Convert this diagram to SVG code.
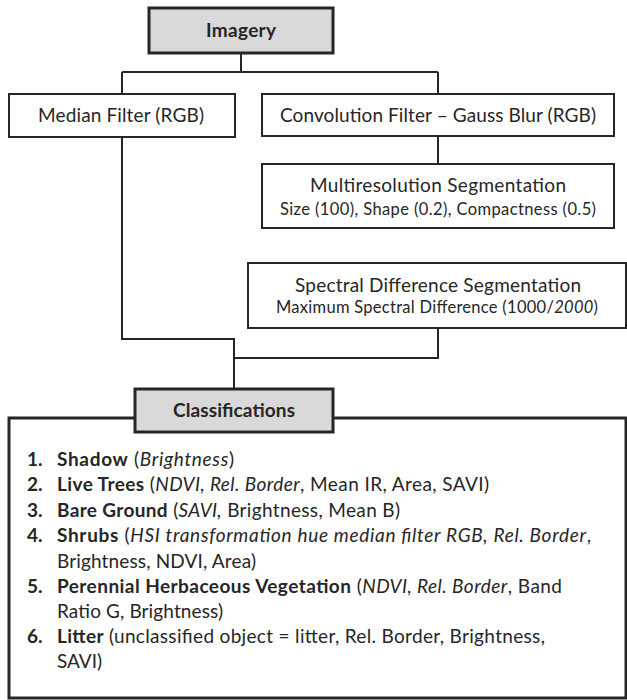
<svg xmlns="http://www.w3.org/2000/svg" width="627" height="700" viewBox="0 0 627 700">
<style>
text{font-family:Lato,"Open Sans","Liberation Sans",sans-serif;fill:#262626}
.box{fill:#fff;stroke:#262626;stroke-width:2}
.hbox{fill:#d9d9d9;stroke:#262626;stroke-width:3}
.big{fill:#fff;stroke:#262626;stroke-width:3}
.conn{fill:none;stroke:#262626;stroke-width:2}
.t{font-size:19px}
.s{font-size:16.5px}
.h{font-size:19px;font-weight:bold}
.l{font-size:19px}
.b{font-weight:bold}
.i{font-style:italic}
</style>
<rect width="627" height="700" fill="#fff"/>
<g id="connectors">
<path class="conn" d="M241,53 V72 M122,72 H438 M122,72 V94 M438,72 V94"/>
<path class="conn" d="M438,136 V164"/>
<path class="conn" d="M122,137 V339 H234 V389"/>
<path class="conn" d="M438,328 V358 H234"/>
</g>
<g id="classification-list">
<rect class="big" x="9" y="418" width="617" height="280"/>
<text class="l b" x="27" y="466">1.</text>
<text class="l" x="57" y="466" textLength="177" lengthAdjust="spacing"><tspan class="b">Shadow</tspan> (<tspan class="i">Brightness</tspan>)</text>
<text class="l b" x="27" y="491">2.</text>
<text class="l" x="57" y="491" textLength="432" lengthAdjust="spacing"><tspan class="b">Live Trees</tspan> (<tspan class="i">NDVI, Rel. Border</tspan>, Mean IR, Area, SAVI)</text>
<text class="l b" x="27" y="517">3.</text>
<text class="l" x="57" y="517" textLength="343" lengthAdjust="spacing"><tspan class="b">Bare Ground</tspan> (<tspan class="i">SAVI,</tspan> Brightness, Mean B)</text>
<text class="l b" x="27" y="542">4.</text>
<text class="l" x="57" y="542" textLength="534" lengthAdjust="spacing"><tspan class="b">Shrubs</tspan> (<tspan class="i">HSI transformation hue median filter RGB, Rel. Border</tspan>,</text>
<text class="l" x="57" y="568" textLength="199" lengthAdjust="spacing">Brightness, NDVI, Area)</text>
<text class="l b" x="27" y="593">5.</text>
<text class="l" x="57" y="593" textLength="505" lengthAdjust="spacing"><tspan class="b">Perennial Herbaceous Vegetation</tspan> (<tspan class="i">NDVI, Rel. Border</tspan>, Band</text>
<text class="l" x="57" y="618" textLength="166" lengthAdjust="spacing">Ratio G, Brightness)</text>
<text class="l b" x="27" y="643">6.</text>
<text class="l" x="57" y="643" textLength="488" lengthAdjust="spacing"><tspan class="b">Litter</tspan> (unclassified object = litter, Rel. Border, Brightness,</text>
<text class="l" x="57" y="668" textLength="45" lengthAdjust="spacing">SAVI)</text>
</g>
<g id="imagery">
<rect class="hbox" x="149" y="8" width="184" height="45"/>
<text class="h" x="206" y="37" textLength="70" lengthAdjust="spacing">Imagery</text>
</g>
<g id="median-filter">
<rect class="box" x="9" y="94" width="226" height="43"/>
<text class="t" x="38" y="122" textLength="166" lengthAdjust="spacing">Median Filter (RGB)</text>
</g>
<g id="convolution-filter">
<rect class="box" x="262" y="94" width="352" height="42"/>
<text class="t" x="280" y="122" textLength="316" lengthAdjust="spacing">Convolution Filter – Gauss Blur (RGB)</text>
</g>
<g id="multiresolution">
<rect class="box" x="262" y="164" width="352" height="64"/>
<text class="t" x="310" y="192" textLength="256" lengthAdjust="spacing">Multiresolution Segmentation</text>
<text class="s" x="280" y="215" textLength="316" lengthAdjust="spacing">Size (100), Shape (0.2), Compactness (0.5)</text>
</g>
<g id="spectral-difference">
<rect class="box" x="248" y="263" width="378" height="65"/>
<text class="t" x="295" y="292" textLength="286" lengthAdjust="spacing">Spectral Difference Segmentation</text>
<text class="s" x="276" y="313" textLength="322" lengthAdjust="spacing">Maximum Spectral Difference (1000/<tspan class="i">2000</tspan>)</text>
</g>
<g id="classifications">
<rect class="hbox" x="135" y="389" width="198" height="43"/>
<text class="h" x="173" y="417" textLength="122" lengthAdjust="spacing">Classifications</text>
</g>
</svg>
